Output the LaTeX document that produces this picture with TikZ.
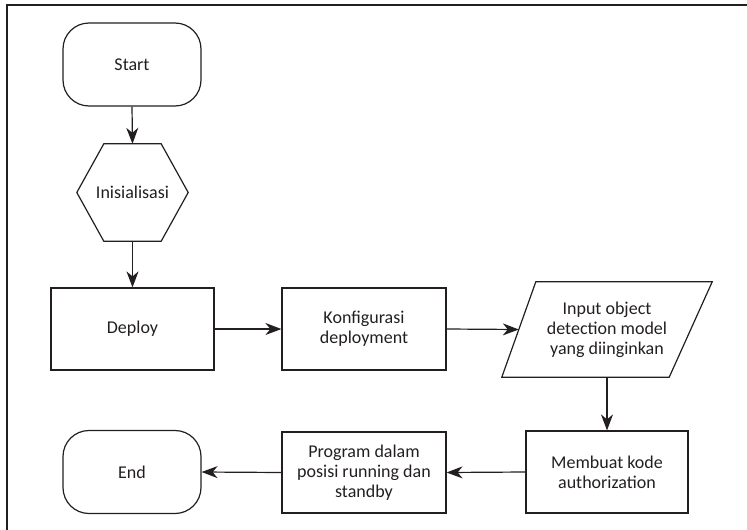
\documentclass[tikz,border=0pt]{standalone}
\usepackage{fontspec}
\setmainfont{Carlito}
\usetikzlibrary{arrows.meta}
\definecolor{ink}{HTML}{231F20}
\begin{document}
\begin{tikzpicture}[x=1pt,y=-1pt,
  every node/.style={font=\fontsize{18}{20}\selectfont, text=ink, align=center, inner sep=0pt},
  line/.style={draw=ink, line width=1.2pt},
  flow/.style={line, -{Stealth[length=16pt,width=12pt,inset=5pt]}},
  term/.style={line, rounded corners=26pt, minimum width=138pt, minimum height=83pt},
  proc/.style={line, minimum width=164pt, minimum height=82pt}
]
\useasboundingbox (0,0) rectangle (747,530);
\draw[draw=ink, line width=1.4pt] (7,530) -- (7,5) -- (747,5);

\node[term] (start) at (132,64.5) {Start};
\node[minimum width=111pt, minimum height=97pt] (hex) at (132.5,192.5) {Inisialisasi};
\draw[line] ([xshift=27pt]hex.north west) -- ([xshift=-27pt]hex.north east) -- (hex.east)
  -- ([xshift=-27pt]hex.south east) -- ([xshift=27pt]hex.south west) -- (hex.west) -- cycle;

\node[proc, minimum width=163pt] (deploy) at (132.5,329) {Deploy};
\node[proc] (konf) at (364,329) {Konfigurasi\\deployment};
\node[minimum width=210pt, minimum height=95pt] (inp) at (607,329.5) {Input object\\detection model\\yang diinginkan};
\draw[line] ([xshift=34pt]inp.north west) -- (inp.north east) -- ([xshift=-43pt]inp.south east)
  -- (inp.south west) -- cycle;
\coordinate (inpL) at ([xshift=17pt]inp.west);

\node[proc, minimum width=162pt] (buat) at (607,472) {Membuat kode\\authorization};
\node[proc, minimum height=81pt] (prog) at (364,472.5) {Program dalam\\posisi running dan\\standby};
\node[term] (end) at (132,472) {End};

\draw[flow] (start.south) -- (hex.north);
\draw[flow] (hex.south) -- (deploy.north);
\draw[flow] (deploy.east) -- (konf.west);
\draw[flow] (konf.east) -- (inpL);
\draw[flow] (inp.south) -- (buat.north);
\draw[flow] (buat.west) -- (prog.east);
\draw[flow] (prog.west) -- (end.east);
\end{tikzpicture}
\end{document}
